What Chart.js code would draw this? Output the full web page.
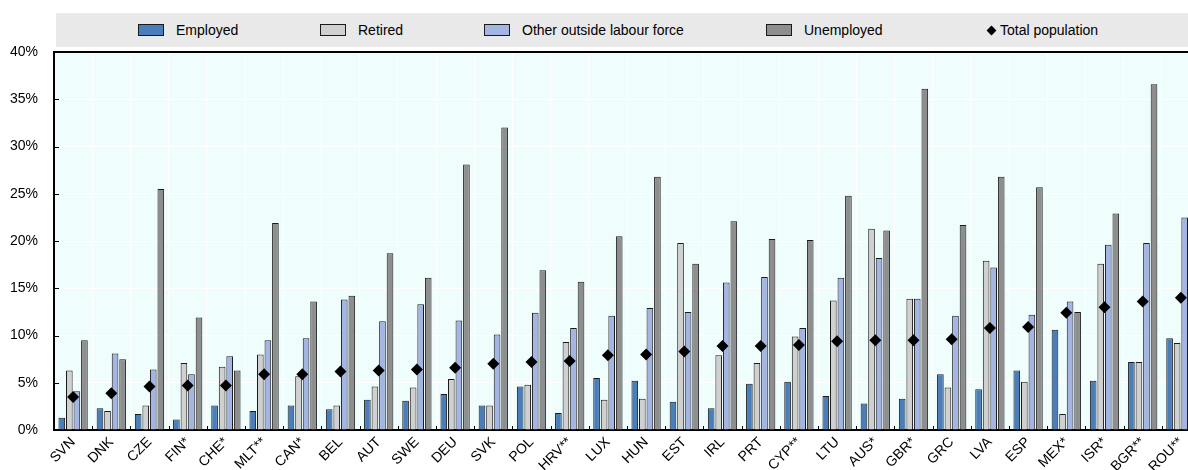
<!DOCTYPE html>
<html>
<head>
<meta charset="utf-8">
<script src="https://cdn.jsdelivr.net/npm/chart.js@4.4.1/dist/chart.umd.min.js"></script>
<style>
  body { margin: 0; width: 1188px; height: 470px; overflow: hidden; background: #fff;
         font-family: 'Liberation Sans', Arial, sans-serif; }
  #wrap { position: relative; width: 1206px; height: 470px; }
  #legend { position: absolute; left: 56px; top: 13px; width: 1132px; height: 34px; background: #e9e9e9; }
  .item { position: absolute; top: 0; height: 34px; display: flex; align-items: center;
          font-size: 14px; color: #000; white-space: nowrap; }
  .swatch { width: 24px; height: 10px; border: 1px solid #1a1a1a; margin-right: 12px; }
  .diamond { width: 7px; height: 7px; background: #000; transform: rotate(45deg); margin-right: 5px; }
</style>
</head>
<body>
<div id="wrap">
  <canvas id="chart" width="1206" height="470"></canvas>
  <div id="legend"></div>
</div>
<script>
// Countries, sorted by the total population rate
const countries = ['SVN', 'DNK', 'CZE', 'FIN*', 'CHE*', 'MLT**', 'CAN*', 'BEL', 'AUT', 'SWE',
  'DEU', 'SVK', 'POL', 'HRV**', 'LUX', 'HUN', 'EST', 'IRL', 'PRT', 'CYP**',
  'LTU', 'AUS*', 'GBR*', 'GRC', 'LVA', 'ESP', 'MEX*', 'ISR*', 'BGR**', 'ROU**'];

// Rates in % by labour market status
const employed = [1.3, 2.3, 1.7, 1.1, 2.6, 2.0, 2.6, 2.2, 3.2, 3.1,
  3.8, 2.6, 4.6, 1.8, 5.5, 5.2, 3.0, 2.3, 4.9, 5.1,
  3.6, 2.8, 3.3, 5.9, 4.3, 6.3, 10.6, 5.2, 7.2, 9.7];
const retired = [6.3, 2.0, 2.6, 7.1, 6.7, 8.0, 5.7, 2.6, 4.6, 4.5,
  5.4, 2.6, 4.8, 9.3, 3.2, 3.3, 19.8, 7.9, 7.1, 9.9,
  13.7, 21.3, 13.9, 4.5, 17.9, 5.1, 1.7, 17.6, 7.2, 9.2];
const otherOutside = [4.1, 8.1, 6.4, 5.9, 7.8, 9.5, 9.7, 13.8, 11.5, 13.3,
  11.6, 10.1, 12.4, 10.8, 12.1, 12.9, 12.5, 15.6, 16.2, 10.8,
  16.1, 18.2, 13.9, 12.1, 17.2, 12.2, 13.6, 19.6, 19.8, 22.5];
const unemployed = [9.5, 7.5, 25.5, 11.9, 6.3, 21.9, 13.6, 14.2, 18.7, 16.1,
  28.1, 32.0, 16.9, 15.7, 20.5, 26.8, 17.6, 22.1, 20.2, 20.1,
  24.8, 21.1, 36.1, 21.7, 26.8, 25.7, 12.5, 22.9, 36.6, 30.0];
const totalPopulation = [3.5, 3.9, 4.6, 4.7, 4.7, 5.9, 5.9, 6.2, 6.3, 6.4,
  6.6, 7.0, 7.2, 7.3, 7.9, 8.0, 8.3, 8.9, 8.9, 9.0,
  9.4, 9.5, 9.5, 9.6, 10.8, 10.9, 12.4, 13.0, 13.6, 14.0];

const yTicks = [0, 5, 10, 15, 20, 25, 30, 35, 40];

const FONT = "'Liberation Sans', Arial, sans-serif";

function barSet(label, data, color) {
  return {
    type: 'bar', label: label, data: data, order: 1,
    backgroundColor: color, borderColor: '#1a1a1a', borderWidth: 1,
    categoryPercentage: 0.79, barPercentage: 0.88
  };
}

const datasets = [
  barSet('Employed', employed, '#4a7ebb'),
  barSet('Retired', retired, '#d0d0d0'),
  barSet('Other outside labour force', otherOutside, '#a4b5e4'),
  barSet('Unemployed', unemployed, '#8e8e8e'),
  {
    type: 'line', label: 'Total population', data: totalPopulation, order: 0,
    showLine: false, pointStyle: 'rectRot', pointRadius: 6,
    pointBackgroundColor: '#000', pointBorderColor: '#000', pointBorderWidth: 0
  }
];

// plot background, top frame line and the short inner tick marks
const plotFrame = {
  id: 'plotFrame',
  beforeDraw(chart) {
    const a = chart.chartArea, ctx = chart.ctx;
    ctx.save();
    ctx.fillStyle = '#f0fdfd';
    ctx.fillRect(a.left, a.top, a.right - a.left, a.bottom - a.top);
    ctx.restore();
  },
  afterDraw(chart) {
    const a = chart.chartArea, ctx = chart.ctx;
    const x = chart.scales.x, y = chart.scales.y;
    ctx.save();
    ctx.strokeStyle = '#000';
    ctx.lineWidth = 2;
    ctx.beginPath();
    ctx.moveTo(a.left - 1, a.top);
    ctx.lineTo(a.right, a.top);
    ctx.stroke();
    ctx.lineWidth = 1;
    ctx.beginPath();
    yTicks.forEach(v => {
      const py = Math.round(y.getPixelForValue(v)) + 0.5;
      ctx.moveTo(a.left, py);
      ctx.lineTo(a.left + 5, py);
    });
    for (let i = 1; i < countries.length; i++) {
      const px = Math.round((x.getPixelForTick(i - 1) + x.getPixelForTick(i)) / 2) + 0.5;
      ctx.moveTo(px, a.bottom);
      ctx.lineTo(px, a.bottom - 4);
    }
    ctx.stroke();
    ctx.restore();
  }
};

new Chart(document.getElementById('chart'), {
  data: { labels: countries, datasets: datasets },
  plugins: [plotFrame],
  options: {
    responsive: false,
    animation: false,
    devicePixelRatio: 1,
    layout: { padding: { top: 52, left: 0, right: 0, bottom: 0 } },
    plugins: { legend: { display: false }, tooltip: { enabled: false } },
    scales: {
      x: {
        offset: true,
        grid: { offset: true, color: '#ffffff', lineWidth: 1, drawTicks: false },
        border: { color: '#000', width: 2 },
        ticks: {
          color: '#000', font: { family: FONT, size: 14 },
          minRotation: 45, maxRotation: 45, padding: 4, autoSkip: false
        },
        afterFit(scale) { scale.height = 40; }
      },
      y: {
        min: 0, max: 40,
        grid: { color: '#ffffff', lineWidth: 1, drawTicks: false },
        border: { color: '#000', width: 2 },
        ticks: {
          stepSize: 5, padding: 16, color: '#000', font: { family: FONT, size: 14 },
          callback: v => v + '%'
        },
        afterFit(scale) { scale.width = 54; }
      }
    }
  }
});

// legend band drawn from the dataset list
const legendLeft = [82, 264, 428, 710, 932];
const legend = document.getElementById('legend');
datasets.forEach((ds, i) => {
  const item = document.createElement('div');
  item.className = 'item';
  item.style.left = legendLeft[i] + 'px';
  const mark = document.createElement('span');
  if (ds.type === 'bar') {
    mark.className = 'swatch';
    mark.style.background = ds.backgroundColor;
  } else {
    mark.className = 'diamond';
  }
  item.appendChild(mark);
  item.appendChild(document.createTextNode(ds.label));
  legend.appendChild(item);
});
</script>
</body>
</html>
